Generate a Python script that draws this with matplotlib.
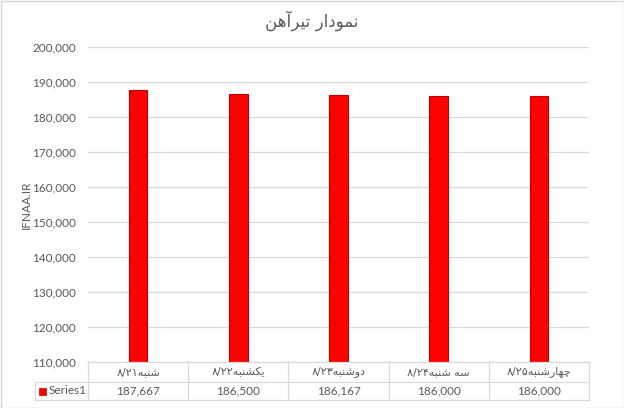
import matplotlib
matplotlib.use("Agg")
import matplotlib.pyplot as plt
from matplotlib.transforms import blended_transform_factory
from matplotlib.lines import Line2D
from matplotlib.patches import Rectangle

# ---------------- data ----------------
title = "نمودار تیرآهن"
y_label = "IFNAA.IR"
categories = ["شنبه۸/۲۱", "یکشنبه۸/۲۲", "دوشنبه۸/۲۳", "سه شنبه۸/۲۴", "چهارشنبه۸/۲۵"]
series_name = "Series1"
values = [187667, 186500, 186167, 186000, 186000]
y_ticks = [110000, 120000, 130000, 140000, 150000, 160000, 170000, 180000, 190000, 200000]

# ---------------- minimal Arabic/Persian shaping + bidi ----------------
FORMS = {
    'ا': ('\uFE8D', '\uFE8E', None, None),
    'آ': ('\uFE81', '\uFE82', None, None),
    'ب': ('\uFE8F', '\uFE90', '\uFE91', '\uFE92'),
    'ت': ('\uFE95', '\uFE96', '\uFE97', '\uFE98'),
    'ج': ('\uFE9D', '\uFE9E', '\uFE9F', '\uFEA0'),
    'چ': ('\uFB7A', '\uFB7B', '\uFB7C', '\uFB7D'),
    'د': ('\uFEA9', '\uFEAA', None, None),
    'ر': ('\uFEAD', '\uFEAE', None, None),
    'س': ('\uFEB1', '\uFEB2', '\uFEB3', '\uFEB4'),
    'ش': ('\uFEB5', '\uFEB6', '\uFEB7', '\uFEB8'),
    'ک': ('\uFB8E', '\uFB8F', '\uFB90', '\uFB91'),
    'م': ('\uFEE1', '\uFEE2', '\uFEE3', '\uFEE4'),
    'ن': ('\uFEE5', '\uFEE6', '\uFEE7', '\uFEE8'),
    'ه': ('\uFEE9', '\uFEEA', '\uFEEB', '\uFEEC'),
    'و': ('\uFEED', '\uFEEE', None, None),
    'ی': ('\uFBFC', '\uFBFD', '\uFBFE', '\uFBFF'),
}


def _dual(c):
    return c in FORMS and FORMS[c][2] is not None


def shape(s):
    out = []
    for i, c in enumerate(s):
        if c not in FORMS:
            out.append(c)
            continue
        prev = s[i - 1] if i > 0 else None
        nxt = s[i + 1] if i + 1 < len(s) else None
        jp = prev is not None and _dual(prev)
        jn = _dual(c) and nxt is not None and nxt in FORMS
        iso, fin, ini, med = FORMS[c]
        if jp and jn:
            out.append(med)
        elif jp:
            out.append(fin)
        elif jn:
            out.append(ini)
        else:
            out.append(iso)
    return "".join(out)


def visual(s):
    num_chars = set("۰۱۲۳۴۵۶۷۸۹0123456789/,.")
    runs = []
    for c in s:
        isnum = c in num_chars
        if runs and runs[-1][0] == isnum:
            runs[-1][1].append(c)
        else:
            runs.append([isnum, [c]])
    parts = []
    for isnum, chars in reversed(runs):
        txt = "".join(chars)
        parts.append(txt if isnum else shape(txt)[::-1])
    return "".join(parts)


# ---------------- figure ----------------
W, H = 624, 408
fig = plt.figure(figsize=(W / 100, H / 100), dpi=100)
fig.patch.set_facecolor("white")

LAT = ["Lato", "DejaVu Sans"]
ARB = ["DejaVu Sans"]
TXT = "#595959"


def fx(px):
    return px / W


def fy(py):
    return 1 - py / H


ax_left, ax_right, ax_top, ax_bottom = 88, 589, 47, 362
ax = fig.add_axes([fx(ax_left), fy(ax_bottom), fx(ax_right) - fx(ax_left), fy(ax_top) - fy(ax_bottom)])

x = list(range(len(categories)))
ax.bar(x, values, width=0.185, color="#FF0000", edgecolor="#C00000", linewidth=0.8, zorder=3)
ax.set_xlim(-0.5, len(categories) - 0.5)
ax.set_ylim(y_ticks[0], y_ticks[-1])
ax.set_yticks(y_ticks)
ax.set_yticklabels([f"{v:,}" for v in y_ticks], fontsize=8.5, color=TXT, family=LAT)
ax.tick_params(axis="y", length=0, pad=8.5)
ax.set_xticks([])
ax.grid(axis="y", color="#D9D9D9", linewidth=0.9, zorder=0)
for sp in ax.spines.values():
    sp.set_visible(False)

# y label
fig.text(fx(26), fy((ax_top + ax_bottom) / 2), y_label, rotation=90, ha="center", va="center",
         fontsize=8.5, color=TXT, family=LAT)

# title
fig.text(fx(312), fy(21), visual(title), ha="center", va="center", fontsize=12, color=TXT,
         family=ARB)

# ---------------- data table ----------------
gc = "#D9D9D9"
row1_top, row1_bot, row2_bot = 362, 382, 400
key_left = 35
fig.add_artist(Line2D([fx(ax_left), fx(ax_right)], [fy(row1_top)] * 2, color=gc, lw=0.9))
fig.add_artist(Line2D([fx(key_left), fx(ax_right)], [fy(row1_bot)] * 2, color=gc, lw=0.9))
fig.add_artist(Line2D([fx(key_left), fx(ax_right)], [fy(row2_bot)] * 2, color=gc, lw=0.9))
bt = blended_transform_factory(ax.transData, fig.transFigure)
for i in range(len(categories) + 1):
    xb = i - 0.5
    fig.add_artist(Line2D([xb, xb], [fy(row1_top), fy(row2_bot)], color=gc, lw=0.9, transform=bt))
fig.add_artist(Line2D([fx(key_left)] * 2, [fy(row1_bot), fy(row2_bot)], color=gc, lw=0.9))

for i, (c, v) in enumerate(zip(categories, values)):
    fig.text(i, fy((row1_top + row1_bot) / 2), visual(c), transform=bt, ha="center", va="center",
             fontsize=8, color=TXT, family=ARB)
    fig.text(i, fy((row1_bot + row2_bot) / 2), f"{v:,}", transform=bt, ha="center", va="center",
             fontsize=8.5, color=TXT, family=LAT)

# legend key
fig.add_artist(Rectangle((fx(39), fy(395)), fx(7), fy(388) - fy(395), facecolor="#FF0000",
                         edgecolor="#C00000", lw=0.5))
fig.text(fx(49), fy(391), series_name, ha="left", va="center", fontsize=8.5, color=TXT,
         family=LAT)

# chart border
fig.add_artist(Rectangle((fx(0.5), fy(407.5)), fx(623), fy(0.5) - fy(407.5), fill=False,
                         edgecolor="#D9D9D9", lw=1))

fig.savefig("out.png", dpi=100)
